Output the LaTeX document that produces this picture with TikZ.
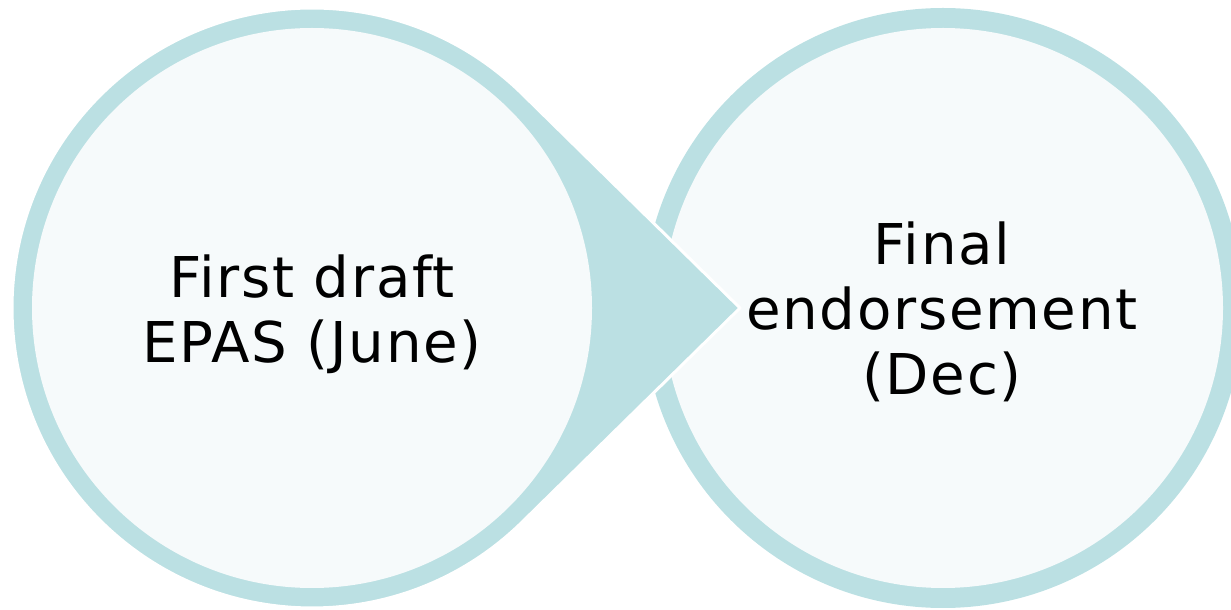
\documentclass[tikz,border=0pt]{standalone}
\usepackage{fontspec}
\setmainfont[LetterSpace=3]{DejaVu Sans}
\usetikzlibrary{calc}
\definecolor{ringblue}{RGB}{187,224,227}
\definecolor{paleblue}{RGB}{246,250,251}

\begin{document}
\begin{tikzpicture}[x=0.02cm,y=0.02cm, line join=round, line cap=round,
	label/.style={align=center, font=\fontsize{32}{37}\selectfont}]
		\def\R{300} \def\r{280} % outer and inner radius
		\useasboundingbox (0,0) rectangle (1231,609);
		\clip (0,0) rectangle (1231,609);
		\coordinate (lc) at (312,301);
		\coordinate (rc) at (943,301);
		\coordinate (tip) at (740,301);
		% right circle
		\fill[ringblue] (rc) circle (\R);
		\fill[paleblue] (rc) circle (\r);
		% left circle with pointer
		\filldraw[ringblue, draw=white, line width=0.06cm] (tip) -- ($(lc)+(45.5:\R)$) arc[start angle=45.5, end angle=314.5, radius=\R] -- cycle;
		\fill[paleblue] (lc) circle (\r);
		\node[label] (draft) at (312,295) {First draft\\EPAS (June)};
		\node[label] (endorse) at (942,297) {Final\\endorsement\\(Dec)};
\end{tikzpicture}
\end{document}
